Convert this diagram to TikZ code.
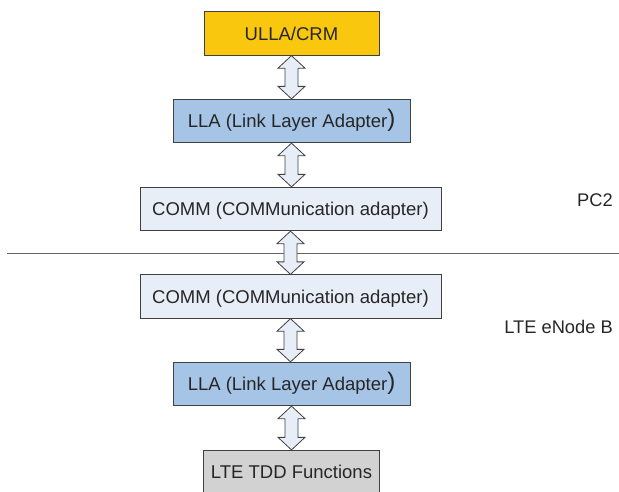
\documentclass[tikz,border=0pt]{standalone}
\usepackage{fontspec}
\setmainfont{Liberation Sans}
\usepackage{xcolor}
\usetikzlibrary{calc}

\definecolor{ullagold}{HTML}{F9C80E}
\definecolor{llablue}{HTML}{A6C4E6}
\definecolor{commblue}{HTML}{E8EEF8}
\definecolor{tddgray}{HTML}{D2D2D2}
\definecolor{edgegray}{HTML}{404040}

\tikzset{
	layer/.style={draw=edgegray, line width=0.8pt, minimum height=43.5pt, inner sep=0pt,
		text height=13.1pt, text depth=0pt, font=\fontsize{18.5}{22}\selectfont, text=black!85},
	ullabox/.style={layer, fill=ullagold, minimum width=175pt},
	llabox/.style={layer, fill=llablue, minimum width=237pt},
	commbox/.style={layer, fill=commblue, minimum width=301pt},
	tddbox/.style={layer, fill=tddgray, minimum width=176pt},
	site/.style={anchor=east, inner sep=0pt, font=\fontsize{18.3}{22}\selectfont, text=black!85},
	divider/.style={draw=black!60, line width=1pt},
	fatarrow/.style={draw=edgegray, line width=0.8pt, fill=commblue, line join=miter, to path={
		let \p1=(\tikztostart.south), \p2=(\tikztotarget.north) in
		(\x1,\y1) -- ({\x1+13.5pt},{\y1-12.5pt}) -- ({\x1+6.5pt},{\y1-12.5pt})
		-- ({\x1+6.5pt},{\y2+12.5pt}) -- ({\x1+13.5pt},{\y2+12.5pt}) -- (\x1,\y2)
		-- ({\x1-13.5pt},{\y2+12.5pt}) -- ({\x1-6.5pt},{\y2+12.5pt})
		-- ({\x1-6.5pt},{\y1-12.5pt}) -- ({\x1-13.5pt},{\y1-12.5pt}) -- cycle}}
}
\newcommand{\bigparen}{\raisebox{0.6pt}{\fontsize{24}{24}\selectfont)}}

\begin{document}
\begin{tikzpicture}[x=1pt, y=-1pt]
	\useasboundingbox (0,0) rectangle (619,491);

	% PC2 / eNode B split
	\coordinate (lineL) at (7,253);
	\coordinate (lineR) at (619,253);
	\draw[divider] (lineL) -- (lineR);
	\node[site] at (613,200) (pc) {PC2};
	\node[site] at (613,327) (enb) {LTE eNode B};

	% layer stack
	\node[ullabox] at (291.5,33.5) (ulla) {ULLA/CRM};
	\node[llabox] at (291.5,121) (lla1) {LLA (Link Layer Adapter\bigparen};
	\node[commbox] at (290.5,209) (comm1) {COMM (COMMunication adapter)};
	\node[commbox] at (290.5,296.5) (comm2) {COMM (COMMunication adapter)};
	\node[llabox] at (291.5,384) (lla2) {LLA (Link Layer Adapter\bigparen};
	\node[tddbox] at (291.5,472) (tdd) {LTE TDD Functions};

	\path[fatarrow] (ulla) to (lla1);
	\path[fatarrow] (lla1) to (comm1);
	\path[fatarrow] (comm1) to (comm2);
	\path[fatarrow] (comm2) to (lla2);
	\path[fatarrow] (lla2) to (tdd);
\end{tikzpicture}
\end{document}
